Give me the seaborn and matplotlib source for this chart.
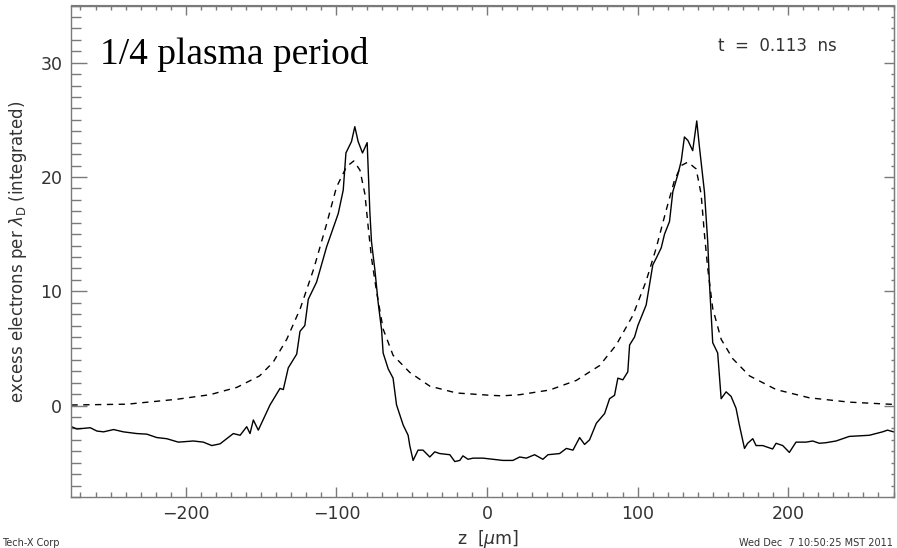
import numpy as np
import pandas as pd
import matplotlib
matplotlib.use("Agg")
import matplotlib.pyplot as plt
import seaborn as sns
from matplotlib.ticker import MultipleLocator

# ---------------- data ----------------
z_theory = [-276, -239, -206, -184, -166, -151, -142, -133, -124, -115, -106.5,
            -100, -93.3, -88.5, -84.4, -81.1, -78.9, -76.7, -73.4, -69, -62.4,
            -51.3, -38, -20.3, 2, 10, 21.7, 41.6, 59.3, 74.8, 85.8, 96.9, 105.7,
            112.4, 119, 124.5, 129, 133.4, 138.9, 142.2, 144.4, 146.6, 149.9,
            155.5, 163.2, 174.3, 192, 214, 240.5, 270]
n_theory = [0.05, 0.12, 0.55, 0.95, 1.6, 2.6, 3.8, 5.8, 8.5, 12.0, 15.9,
            19.1, 20.9, 21.4, 20.6, 18.5, 15.6, 12.9, 10.0, 6.7, 4.4,
            2.9, 1.7, 1.1, 0.9, 0.85, 0.95, 1.36, 2.2, 3.5, 5.3, 7.9, 10.9,
            13.8, 17.1, 19.7, 21.0, 21.3, 20.7, 18.5, 15.0, 12.0, 8.5,
            5.8, 4.1, 2.6, 1.4, 0.68, 0.3, 0.1]

z_sim = [-276, -272.4, -263.5, -259.1, -254.7, -248, -241.5, -232.6, -226, -219.3,
         -212.7, -205, -195, -188.4, -182.8, -177.3, -168.5, -164, -159.6, -157.4,
         -155.2, -151.9, -144.1, -137.5, -135.3, -132, -126.4, -124.2, -121, -118.7,
         -113.2, -106.5, -98.8, -95.5, -93.7, -90, -87.8, -85.6, -82.7, -79.6,
         -77.8, -76.7, -74.5, -72.3, -70, -69, -65.6, -62.4, -60.1, -55.7,
         -52.4, -51.3, -49.1, -45.8, -42.5, -38, -34.7, -31.4, -24.7, -21.4,
         -18.1, -16, -12.6, -9.3, -2.7, 4, 10.6, 17.2, 21.7, 26.1,
         31.6, 37.1, 40.5, 48.2, 52.7, 57.1, 61.5, 64.8, 68.1, 72.6,
         78.1, 81.4, 84.7, 86.9, 90.2, 93.5, 94.7, 98, 100.2, 105.7,
         110.1, 112.4, 115.7, 117.9, 121.2, 123.4, 126.7, 129, 131.1, 133.4,
         136.6, 139.3, 141.1, 144.4, 146.6, 147.7, 149.9, 153.2, 155.5, 158.8,
         162.1, 165.4, 167.6, 171, 173.1, 176.5, 178.7, 183.1, 189.7, 192,
         196.4, 200.8, 205.2, 211.9, 216.3, 220.7, 225.1, 231.8, 240.6, 247.2,
         253.9, 258.3, 262.7, 266, 270]
n_sim = [-1.85, -2.05, -1.94, -2.23, -2.3, -2.1, -2.3, -2.45, -2.5, -2.8,
         -2.9, -3.2, -3.1, -3.2, -3.5, -3.35, -2.45, -2.6, -1.85, -2.45,
         -1.26, -2.15, 0.06, 1.5, 1.4, 3.3, 4.5, 6.5, 7.0, 9.3,
         10.8, 13.9, 16.8, 18.85, 22.1, 23.1, 24.4, 23.1, 22.1, 23.0,
         16.9, 14.3, 11.9, 9.0, 6.6, 4.6, 3.2, 2.4, 0.06, -1.7,
         -2.6, -3.5, -4.8, -3.9, -3.9, -4.5, -4.05, -4.2, -4.3, -4.9,
         -4.8, -4.4, -4.7, -4.6, -4.6, -4.7, -4.8, -4.8, -4.5, -4.6,
         -4.3, -4.7, -4.3, -4.2, -3.75, -3.9, -2.8, -3.4, -3.0, -1.55,
         -0.7, 0.6, 0.9, 2.4, 2.25, 2.95, 5.3, 6.0, 7.0, 8.8,
         12.3, 12.9, 13.8, 15.0, 16.1, 18.7, 20.2, 21.4, 23.5, 23.2,
         22.3, 24.9, 22.6, 18.7, 14.3, 10.8, 5.5, 4.6, 0.6, 1.2,
         0.8, -0.24, -1.7, -3.75, -3.3, -2.9, -3.5, -3.5, -3.8, -3.3,
         -3.5, -4.1, -3.2, -3.2, -3.1, -3.3, -3.25, -3.1, -2.7, -2.65,
         -2.6, -2.45, -2.3, -2.15, -2.3]

x_ticks = [-200, -100, 0, 100, 200]
y_ticks = [0, 10, 20, 30]

theory = pd.DataFrame({"z": z_theory, "n": n_theory})
sim = pd.DataFrame({"z": z_sim, "n": n_sim})

# ---------------- figure ----------------
sns.set_style("white")
plt.rcParams["font.family"] = ["DejaVu Sans"]

W, H = 897, 548
fig = plt.figure(figsize=(W / 100, H / 100), dpi=100)
L, R, T, B = 70.7, 894.3, 5.5, 497.0
ax = fig.add_axes([L / W, 1 - B / H, (R - L) / W, (B - T) / H])

sns.lineplot(data=sim, x="z", y="n", ax=ax, color="black", lw=1.0,
             sort=False, estimator=None)
sns.lineplot(data=theory, x="z", y="n", ax=ax, color="black", lw=1.0,
             sort=False, estimator=None, linestyle="--")
ax.lines[-1].set_dashes((4.5, 4.0))

ax.set_xlim(-276.5, 270.5)
ax.set_ylim(-8, 35)
ax.set_xticks(x_ticks)
ax.set_yticks(y_ticks)
ax.xaxis.set_minor_locator(MultipleLocator(10))
ax.yaxis.set_minor_locator(MultipleLocator(1))

frame_col = "#7a7a7a"
for s in ax.spines.values():
    s.set_color(frame_col)
    s.set_linewidth(1.0)

ax.tick_params(axis="both", which="both", direction="in", color=frame_col,
               labelcolor="#333333", labelsize=12.5, bottom=True, left=True,
               top=False, right=False)
ax.tick_params(axis="x", which="major", length=7.5, width=1.0, pad=6)
ax.tick_params(axis="x", which="minor", length=3.8, width=1.0)
ax.tick_params(axis="y", which="major", length=11.5, width=1.0, pad=6)
ax.tick_params(axis="y", which="minor", length=7.0, width=1.0)
ax.set_xticklabels(["\u2212200", "\u2212100", "0", "100", "200"])
ax.set_xlabel("")
ax.set_ylabel("")

# top and right axes (ticks only)
secx = ax.secondary_xaxis("top")
secx.set_xticks(x_ticks)
secx.xaxis.set_minor_locator(MultipleLocator(10))
secx.tick_params(which="both", direction="in", color=frame_col, labeltop=False,
                 top=True)
secx.tick_params(which="major", length=7.5, width=1.0)
secx.tick_params(which="minor", length=3.8, width=1.0)
secx.spines["top"].set_color(frame_col)

secy = ax.secondary_yaxis("right")
secy.set_yticks(y_ticks)
secy.yaxis.set_minor_locator(MultipleLocator(1))
secy.tick_params(which="both", direction="in", color=frame_col, labelright=False,
                 right=True)
secy.tick_params(which="major", length=7.5, width=1.0)
secy.tick_params(which="minor", length=2.2, width=1.0)
secy.spines["right"].set_color(frame_col)

# texts
fig.text(100 / W, 1 - 64 / H, "1/4 plasma period", family="Liberation Serif",
         fontsize=27, va="baseline", ha="left", color="black")
fig.text(777 / W, 1 - 46 / H, "t  =  0.113  ns", fontsize=12, va="center",
         ha="center", color="#333333")
fig.text(18 / W, 1 - 252 / H, r"excess electrons per $\lambda_{\rm D}$ (integrated)",
         rotation=90, fontsize=12, va="center", ha="center", color="#333333")
fig.text(488 / W, 1 - 538.5 / H, r"z  $[\mu$m$]$", fontsize=12.5, va="center",
         ha="center", color="#333333")
fig.text(2 / W, 1 - 543 / H, "Tech-X Corp", fontsize=7, va="center",
         ha="left", color="#333333")
fig.text(893 / W, 1 - 543 / H, "Wed Dec  7 10:50:25 MST 2011", fontsize=7,
         va="center", ha="right", color="#333333")

fig.savefig("out.png", dpi=100)
